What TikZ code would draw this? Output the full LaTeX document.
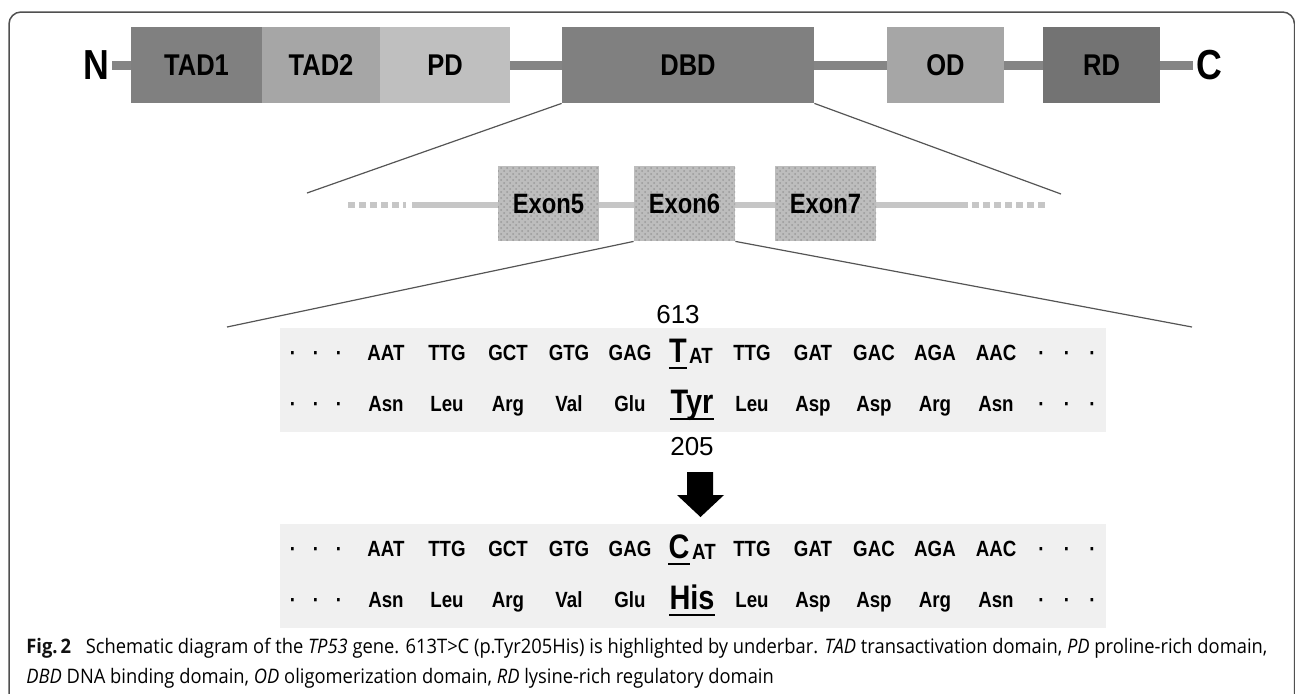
\documentclass[tikz,border=0pt]{standalone}
\usepackage{fontspec}
\usepackage{graphicx}
\usetikzlibrary{patterns}
\newfontfamily\labfont[FakeStretch=0.85]{Liberation Sans}
\newfontfamily\numfont{Liberation Sans}
\newfontfamily\capfont{Open Sans}
\definecolor{domdark}{HTML}{808080}
\definecolor{dommid}{HTML}{A6A6A6}
\definecolor{domlight}{HTML}{BFBFBF}
\definecolor{domrd}{HTML}{737373}
\definecolor{linkgray}{HTML}{858585}
\definecolor{exlinegray}{HTML}{C6C6C6}
\definecolor{exfill}{HTML}{BDBDBD}
\definecolor{exgrid}{HTML}{9A9A9A}
\definecolor{seqbg}{HTML}{F0F0F0}
\definecolor{zoomgray}{HTML}{555555}
\definecolor{framegray}{HTML}{505050}
\definecolor{captext}{HTML}{333333}
\definecolor{capbold}{HTML}{111111}
% caption lines, measured so that they can be fitted to the frame width
\newsavebox\caplineone
\newsavebox\caplinetwo
\sbox\caplineone{\capfont\fontsize{10}{12}\selectfont
  {\bfseries\color{capbold}Fig.\,2}\hspace{0.8em}Schematic diagram of the \textit{TP53} gene. 613T>C (p.Tyr205His) is highlighted by underbar. \textit{TAD} transactivation domain, \textit{PD} proline-rich domain,}
\sbox\caplinetwo{\capfont\fontsize{10}{12}\selectfont
  \textit{DBD} DNA binding domain, \textit{OD} oligomerization domain, \textit{RD} lysine-rich regulatory domain}
\begin{document}
\begin{tikzpicture}[x=0.5pt,y=-0.5pt,
  dom/.style={rectangle, inner sep=0, minimum height=38pt, text=black,
    font=\labfont\bfseries\fontsize{15}{18}\selectfont},
  termlab/.style={inner sep=1.5pt, font=\labfont\bfseries\fontsize{21}{24}\selectfont},
  linker/.style={draw=linkgray, line width=4.5pt},
  exline/.style={draw=exlinegray, line width=3pt},
  exdash/.style={exline, dash pattern=on 3.5pt off 2pt},
  exon/.style={rectangle, inner sep=0, minimum width=50.5pt, minimum height=37.5pt,
    preaction={fill=exfill}, pattern=crosshatch dots, pattern color=exgrid,
    font=\labfont\bfseries\fontsize{14}{16}\selectfont},
  zoomline/.style={draw=zoomgray, line width=0.6pt},
  seqbox/.style={rectangle, fill=seqbg, inner sep=0, minimum width=413pt, minimum height=52pt},
  codon/.style={anchor=base, inner sep=0, font=\labfont\bfseries\fontsize{11}{13}\selectfont},
  bigres/.style={anchor=base, inner sep=0, font=\labfont\bfseries\fontsize{17}{19}\selectfont},
  posnum/.style={inner sep=0, font=\numfont\fontsize{13}{15}\selectfont},
  uline/.style={draw=black, line width=1pt},
  caption/.style={anchor=base west, inner sep=0, text=captext}
]
\useasboundingbox (0,0) rectangle (1295,693);

% outer frame
\draw[framegray, line width=0.75pt, rounded corners=6pt]
  (9,700) -- (9,12) -- (1294.5,12) -- (1294.5,700);

% ---------- protein domains ----------
\node[termlab] (N) at (96,65) {N};
\node[termlab] (C) at (1209,65) {C};
\node[dom, fill=domdark,  minimum width=65.5pt] (TAD1) at (196.5,65) {TAD1};
\node[dom, fill=dommid,   minimum width=59pt]   (TAD2) at (321,65)   {TAD2};
\node[dom, fill=domlight, minimum width=65pt]   (PD)   at (445,65)   {PD};
\node[dom, fill=domdark,  minimum width=126pt]  (DBD)  at (688,65)   {DBD};
\node[dom, fill=dommid,   minimum width=58.5pt] (OD)   at (945.5,65) {OD};
\node[dom, fill=domrd,    minimum width=58.5pt] (RD)   at (1101.5,65) {RD};

\draw[linker] (N.east) -- (TAD1.west);
\draw[linker] (PD.east) -- (DBD.west);
\draw[linker] (DBD.east) -- (OD.west);
\draw[linker] (OD.east) -- (RD.west);
\draw[linker] (RD.east) -- (C.west);

% ---------- exon structure ----------
\coordinate (exA) at (348,205);
\coordinate (exB) at (406,205);
\coordinate (exC) at (412,205);
\coordinate (exD) at (968,205);
\coordinate (exE) at (972,205);
\coordinate (exF) at (1047,205);
\draw[exdash] (exA) -- (exB);
\draw[exline] (exC) -- (exD);
\draw[exdash] (exE) -- (exF);

\node[exon] (E5) at (548.5,203.5) {Exon5};
\node[exon] (E6) at (684.5,203.5) {Exon6};
\node[exon] (E7) at (825.5,203.5) {Exon7};

\coordinate (dbdL) at (307,193);
\coordinate (dbdR) at (1061,194);
\draw[zoomline] (DBD.south west) -- (dbdL);
\draw[zoomline] (DBD.south east) -- (dbdR);

\coordinate (e6L) at (227,327);
\coordinate (e6R) at (1192,327);
\draw[zoomline] (E6.south west) -- (e6L);
\draw[zoomline] (E6.south east) -- (e6R);

% ---------- sequences ----------
\node[seqbox] (seqA) at (693,380) {};
\node[seqbox] (seqB) at (693,576) {};

% codon / residue rows (x centre, codon, residue)
\foreach \x/\c/\a in {386/AAT/Asn, 447/TTG/Leu, 508/GCT/Arg, 569/GTG/Val, 630/GAG/Glu,
                      752/TTG/Leu, 813/GAT/Asp, 874/GAC/Asp, 935/AGA/Arg, 996/AAC/Asn}{
  \node[codon] (cA\x) at (\x,360) {\c};
  \node[codon] (aA\x) at (\x,411) {\a};
  \node[codon] (cB\x) at (\x,556) {\c};
  \node[codon] (aB\x) at (\x,607) {\a};
}
% leading and trailing dots
\foreach \y/\r in {360/a, 411/b, 556/c, 607/d}{
  \node[codon] (dl\r) at (316,\y) {·\hskip 8.4pt·\hskip 8.4pt·};
  \node[codon] (dr\r) at (1067,\y) {·\hskip 9.6pt·\hskip 9.6pt·};
}

% wild type codon 613 and residue 205
\node[posnum] (n613) at (678,315) {613};
\node[bigres] (tA) at (678,362) {T};
\node[codon]  (tArest) at (701,363) {AT};
\draw[uline] ([yshift=-3pt]tA.base west) -- ([yshift=-3pt]tA.base east);
\node[bigres] (tyr) at (692,413) {Tyr};
\draw[uline] ([yshift=-3pt]tyr.base west) -- ([yshift=-3pt]tyr.base east);
\node[posnum] (n205) at (692,447) {205};

% mutation arrow
\fill[black] (687,472) -- (713,472) -- (713,495) -- (724,495) -- (700.5,517)
  -- (677,495) -- (687,495) -- cycle;

% mutant codon and residue
\node[bigres] (cB) at (679,558) {C};
\node[codon]  (cBrest) at (704,559) {AT};
\draw[uline] ([yshift=-3pt]cB.base west) -- ([yshift=-3pt]cB.base east);
\node[bigres] (his) at (692,609) {His};
\draw[uline] ([yshift=-3pt]his.base west) -- ([yshift=-3pt]his.base east);

% ---------- caption ----------
\pgfmathsetmacro\capsc{620.5pt/\the\wd\caplineone}
\node[caption] (cap1) at (26,653) {\scalebox{\capsc}[1]{\usebox\caplineone}};
\node[caption] (cap2) at (26,683) {\scalebox{\capsc}[1]{\usebox\caplinetwo}};
\end{tikzpicture}
\end{document}
